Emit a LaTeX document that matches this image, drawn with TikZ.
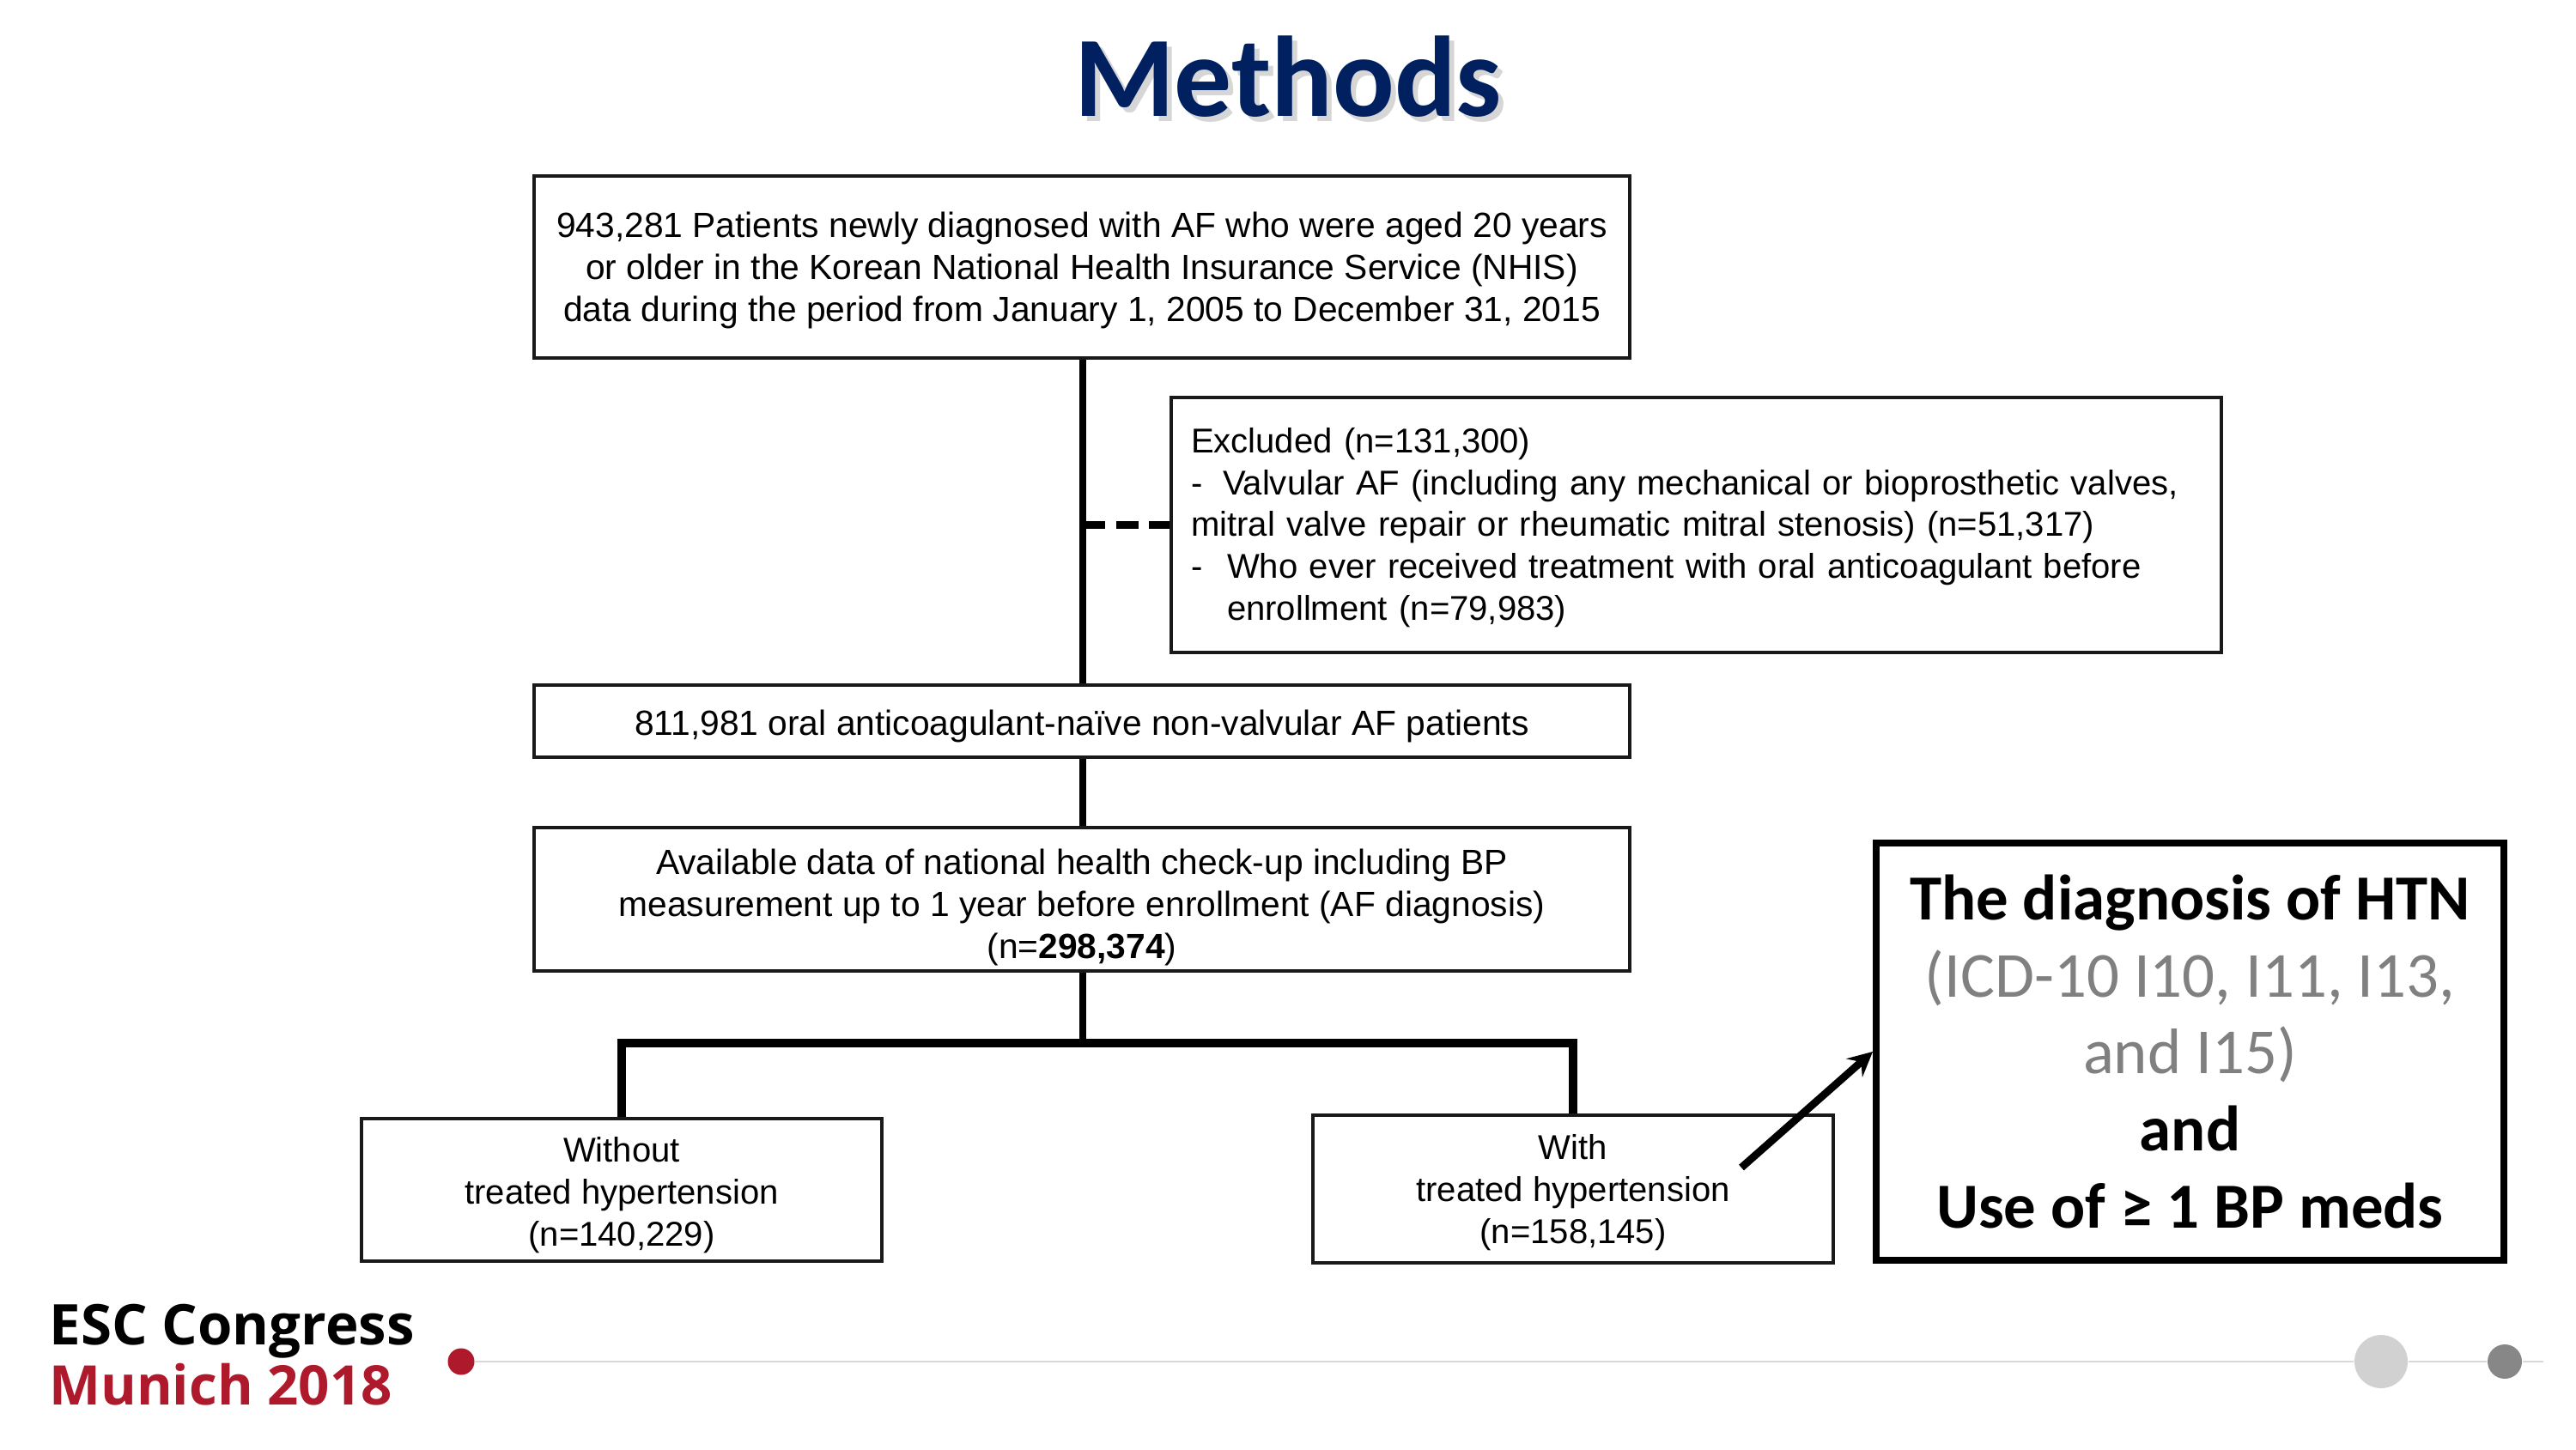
\documentclass[tikz,border=0pt]{standalone}
\usepackage{fontspec}
\setmainfont{Liberation Sans}
\newfontfamily\titlefont{Carlito}
\newfontfamily\logofont{Open Sans}
\usepackage{tikz}
\definecolor{navy}{HTML}{002060}
\definecolor{munich}{HTML}{AE1A2B}
\newcommand{\toprule}[1]{\rule{0pt}{#1}}
\tikzset{
  flowbox/.style={draw=black!90,line width=1.3pt,inner sep=0pt,align=center,
    font=\fontsize{11.4}{13.9}\selectfont},
  widebox/.style={flowbox,minimum width=12.76cm,
    font=\fontsize{11.6}{14}\selectfont},
  trunk/.style={line width=2.4pt},
  notebox/.style={draw=black,line width=2.3pt,inner sep=0pt,align=center,
    minimum width=7.31cm,minimum height=4.86cm,
    font=\titlefont\fontsize{21.3}{25.5}\selectfont\bfseries},
  titletext/.style={font=\titlefont\fontsize{38}{40}\selectfont\bfseries},
  logotext/.style={anchor=west,font=\logofont\fontsize{18.6}{20}\selectfont\bfseries},
}
\begin{document}
\begin{tikzpicture}[scale=1]
\useasboundingbox (0,0) rectangle (30,16.88);
% title
\node[titletext,black!16] (shadow) at (15.06,15.93){Methods};
\node[titletext,navy] (title) at (15,15.99){Methods};
% flow boxes
\node[widebox,minimum height=2.12cm] (all) at (12.6,13.77){\toprule{10.7pt}943,281 Patients newly diagnosed with AF who were aged 20 years\\or older in the Korean National Health Insurance Service (NHIS)\\data during the period from January 1, 2005 to December 31, 2015};
\node[flowbox,minimum height=2.97cm,text width=11.77cm,inner xsep=0.23cm,align=left] (excl) at (19.755,10.765){\toprule{10pt}Excluded (n=131,300)\\\makebox[0.37cm][l]{-}Valvular AF (including any mechanical or bioprosthetic valves,\\mitral valve repair or rheumatic mitral stenosis) (n=51,317)\\\makebox[0.42cm][l]{-}Who ever received treatment with oral anticoagulant before\\\hspace*{0.42cm}enrollment (n=79,983)};
\node[widebox,minimum height=0.84cm] (naive) at (12.6,8.48){\toprule{11.6pt}811,981 oral anticoagulant-naïve non-valvular AF patients};
\node[widebox,minimum height=1.67cm] (check) at (12.6,6.405){\toprule{13.8pt}Available data of national health check-up including BP\\measurement up to 1 year before enrollment (AF diagnosis)\\(n=\textbf{298,374})};
\node[flowbox,minimum width=6.06cm,minimum height=1.66cm] (without) at (7.24,3.02){\toprule{11.6pt}Without\\treated hypertension\\(n=140,229)};
\node[flowbox,minimum width=6.06cm,minimum height=1.72cm] (with) at (18.32,3.03){\toprule{10.6pt}With\\treated hypertension\\(n=158,145)};
\node[notebox] (htn) at (25.505,4.63){The diagnosis of HTN\\{\mdseries\color{black!50}(ICD-10 I10, I11, I13,}\\{\mdseries\color{black!50}and I15)}\\and\\Use of ≥ 1 BP meds};
% connectors
\coordinate (split) at (12.61,4.73);
\coordinate (dash) at (12.61,10.765);
\coordinate (arrowstart) at (20.28,3.28);
\draw[trunk] (all.south -| split) -- (naive.north -| split);
\draw[trunk] (naive.south -| split) -- (check.north -| split);
\draw[trunk] (check.south -| split) -- (split);
\draw[line width=2.8pt] (without.north) -- (without.north |- split) -- (with.north |- split) -- (with.north);
\draw[line width=2.6pt,dash pattern=on 7.5pt off 3.5pt] (dash) -- (excl.west);
\draw[-stealth,line width=2.5pt] (arrowstart) -- (htn.west);
% footer
\node[fill=munich,circle,inner sep=0pt,minimum size=0.31cm] (reddot) at (5.37,1.02){};
\node[fill=black!18,circle,inner sep=0pt,minimum size=0.62cm] (greydot) at (27.73,1.02){};
\node[fill=black!47,circle,inner sep=0pt,minimum size=0.4cm] (darkdot) at (29.17,1.02){};
\coordinate (lineend) at (29.62,1.02);
\draw[black!15,line width=0.7pt] (reddot) -- (greydot);
\draw[black!15,line width=0.7pt] (greydot) -- (darkdot);
\draw[black!15,line width=0.7pt] (darkdot) -- (lineend);
\node[logotext,black] (esc) at (0.45,1.37){ESC Congress};
\node[logotext,munich,font=\logofont\fontsize{18.1}{20}\selectfont\bfseries] (munich) at (0.45,0.75){Munich 2018};
\end{tikzpicture}
\end{document}
